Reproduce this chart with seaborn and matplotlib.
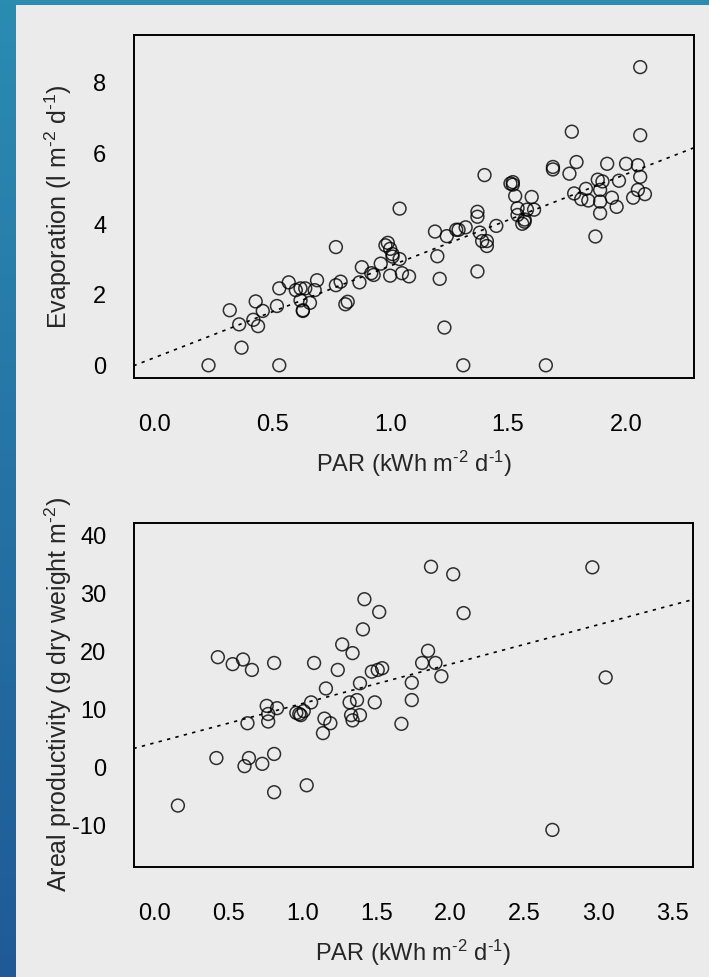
import numpy as np
import matplotlib
matplotlib.use("Agg")
import matplotlib.pyplot as plt
import seaborn as sns
import pandas as pd
from matplotlib.patches import Rectangle

# PAR vs evaporation (upper panel)
evap_par = [0.23, 0.32, 0.36, 0.37, 0.42, 0.43, 0.44, 0.46, 0.52, 0.53, 0.53,
            0.57, 0.60, 0.62, 0.62, 0.63, 0.63, 0.64, 0.66, 0.68, 0.69, 0.77,
            0.77, 0.79, 0.81, 0.82, 0.87, 0.88, 0.92, 0.93, 0.96, 0.98, 0.99,
            1.00, 1.00, 1.01, 1.01, 1.04, 1.04, 1.05, 1.08, 1.19, 1.20, 1.21,
            1.23, 1.24, 1.28, 1.29, 1.31, 1.32, 1.37, 1.37, 1.37, 1.38, 1.39,
            1.40, 1.41, 1.41, 1.45, 1.51, 1.52, 1.52, 1.53, 1.54, 1.54, 1.57,
            1.57, 1.56, 1.58, 1.60, 1.61, 1.66, 1.69, 1.69, 1.76, 1.77, 1.79,
            1.78, 1.83, 1.81, 1.84, 1.87, 1.88, 1.90, 1.89, 1.89, 1.89, 1.92,
            1.94, 1.96, 1.97, 2.00, 2.03, 2.05, 2.05, 2.06, 2.06, 2.06, 2.08]
evap_values = [0.00, 1.56, 1.16, 0.50, 1.29, 1.81, 1.11, 1.54, 1.68, 2.18, 0.00,
               2.35, 2.13, 2.18, 1.84, 1.56, 1.54, 2.18, 1.77, 2.13, 2.41, 2.27,
               3.35, 2.37, 1.73, 1.80, 2.35, 2.78, 2.61, 2.56, 2.88, 3.40, 3.47,
               2.54, 3.30, 3.15, 3.08, 3.01, 4.44, 2.61, 2.52, 3.79, 3.09, 2.45,
               1.07, 3.66, 3.84, 3.84, 0.00, 3.91, 4.35, 4.21, 2.66, 3.76, 3.52,
               5.39, 3.52, 3.38, 3.95, 5.15, 5.19, 5.12, 4.80, 4.45, 4.26, 4.13,
               4.07, 4.01, 4.41, 4.77, 4.41, 0.00, 5.62, 5.55, 5.43, 6.62, 5.76,
               4.87, 5.00, 4.71, 4.67, 3.65, 5.26, 5.21, 4.97, 4.64, 4.31, 5.71,
               4.75, 4.49, 5.23, 5.71, 4.75, 4.97, 5.67, 5.34, 6.52, 8.45, 4.85]

# PAR vs areal productivity (lower panel)
prod_par = [0.16, 0.42, 0.43, 0.53, 0.60, 0.61, 0.64, 0.63, 0.66, 0.73, 0.76,
            0.77, 0.77, 0.81, 0.81, 0.81, 0.83, 0.96, 0.98, 0.99, 1.01, 1.03,
            1.06, 1.08, 1.14, 1.15, 1.16, 1.19, 1.24, 1.27, 1.32, 1.33, 1.34,
            1.34, 1.37, 1.39, 1.39, 1.41, 1.42, 1.47, 1.49, 1.51, 1.52, 1.54,
            1.67, 1.74, 1.74, 1.81, 1.85, 1.87, 1.90, 1.94, 2.02, 2.09, 2.69,
            2.96, 3.05]
prod_values = [-6.6, 1.6, 19.0, 17.8, 18.6, 0.2, 1.6, 7.6, 16.8, 0.6, 10.6,
               9.2, 7.9, 2.3, -4.3, 18.0, 10.2, 9.4, 9.2, 9.0, 9.7, -3.1,
               11.2, 18.0, 5.9, 8.4, 13.6, 7.6, 16.8, 21.2, 11.2, 9.0, 8.1,
               19.7, 11.6, 9.0, 14.5, 23.8, 29.0, 16.5, 11.2, 16.8, 26.8, 17.1,
               7.5, 14.6, 11.6, 18.0, 20.1, 34.6, 18.0, 15.7, 33.3, 26.6, -10.8,
               34.5, 15.5]

evap_xlim = (0.0, 2.2)
evap_ylim = (0.0, 9.0)
evap_xticks = [0.0, 0.5, 1.0, 1.5, 2.0]
evap_yticks = [0, 2, 4, 6, 8]
prod_xlim = (0.0, 3.5)
prod_ylim = (-15.0, 40.0)
prod_xticks = [0.0, 0.5, 1.0, 1.5, 2.0, 2.5, 3.0, 3.5]
prod_yticks = [-10, 0, 10, 20, 30, 40]

x_label = "PAR (kWh m$^{\u20102}$ d$^{\u20101}$)"
evap_label = "Evaporation (l m$^{\u20102}$ d$^{\u20101}$)"
prod_label = "Areal productivity (g dry weight m$^{\u20102}$)"

sns.set_style("white")
plt.rcParams["font.family"] = ["Liberation Sans", "DejaVu Sans"]
plt.rcParams["mathtext.default"] = "regular"
plt.rcParams["axes.unicode_minus"] = False

W, H = 709, 977
fig = plt.figure(figsize=(W / 100, H / 100), dpi=100)

# slide background: blue gradient with a light grey panel
bg = fig.add_axes([0, 0, 1, 1], zorder=-10)
top_c = np.array([0x2b, 0x8c, 0xb2]) / 255
bot_c = np.array([0x1f, 0x5a, 0x97]) / 255
t = np.linspace(0, 1, 256)[:, None]
grad = (top_c * (1 - t) + bot_c * t)[:, None, :]
bg.imshow(grad, aspect="auto", extent=[0, 1, 0, 1])
bg.add_patch(Rectangle((16 / W, 0), 1 - 16 / W, 1 - 5 / H, facecolor="#ebebeb",
                       edgecolor="none", transform=bg.transAxes))
bg.set_axis_off()


def pad_lim(lim):
    span = lim[1] - lim[0]
    return lim[0] - 0.04 * span, lim[1] + 0.04 * span


def draw_panel(ax, xs, ys, xlim, ylim, xticks, yticks, ylabel):
    df = pd.DataFrame({"par": xs, "val": ys})
    ax.set_xlim(pad_lim(xlim))
    ax.set_ylim(pad_lim(ylim))
    sns.regplot(data=df, x="par", y="val", ax=ax, ci=None, truncate=False,
                color="black",
                scatter_kws={"facecolors": "none", "s": 85, "linewidths": 1.1},
                line_kws={"linestyle": (0, (2.0, 3.2)), "linewidth": 1.2})
    ax.set_xlim(pad_lim(xlim))
    ax.set_ylim(pad_lim(ylim))
    ax.set_facecolor("none")
    ax.set_xticks(xticks)
    ax.set_xticklabels([f"{v:.1f}" for v in xticks])
    ax.set_yticks(yticks)
    ax.set_yticklabels([str(v) for v in yticks])
    for sp in ax.spines.values():
        sp.set_visible(True)
        sp.set_color("black")
        sp.set_linewidth(1.4)
    ax.tick_params(axis="both", direction="out", length=10.5, width=1.4,
                   color="black", labelsize=17, labelcolor="black")
    ax.tick_params(axis="x", pad=15.5)
    ax.tick_params(axis="y", pad=9)
    ax.set_xlabel(x_label, fontsize=17, labelpad=9)
    ax.set_ylabel(ylabel, fontsize=18)
    ax.yaxis.set_label_coords(-0.107, 0.5)


ax1 = fig.add_axes([133.5 / W, 1 - 378 / H, 560.5 / W, 343 / H])
draw_panel(ax1, evap_par, evap_values, evap_xlim, evap_ylim,
           evap_xticks, evap_yticks, evap_label)

ax2 = fig.add_axes([133.5 / W, 1 - 867 / H, 559.5 / W, 344.3 / H])
draw_panel(ax2, prod_par, prod_values, prod_xlim, prod_ylim,
           prod_xticks, prod_yticks, prod_label)

fig.savefig("out.png", dpi=100)
